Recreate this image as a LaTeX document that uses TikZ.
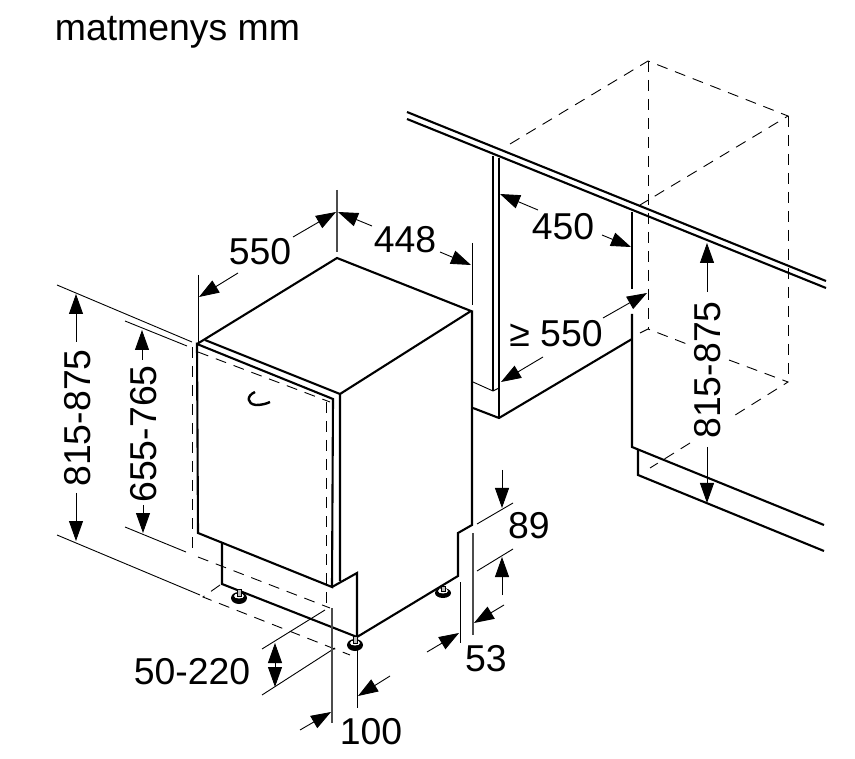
\documentclass[tikz,border=0pt]{standalone}
\usepackage{fontspec}
\setmainfont{Liberation Sans}
\usetikzlibrary{arrows.meta}
\tikzset{
heavy/.style={line width=2.1pt},
light/.style={line width=0.9pt},
medium/.style={line width=1.4pt,black!70},
hidden/.style={line width=0.9pt,dash pattern=on 11pt off 8pt},
dimarrow/.style={line width=0.9pt,-{Triangle[length=20pt,width=14pt]}},
dimtext/.style={font=\fontsize{37.4}{37.4}\selectfont,inner sep=0pt},
}
\begin{document}
\begin{tikzpicture}[x=1pt,y=-1pt]
\useasboundingbox (0,0) rectangle (855,759);
\node[dimtext] (title) at (177.5,32) {matmenys mm};
% hidden outline of the opening
\draw[hidden] (192,347) -- (192,553);
\draw[hidden] (198,352) -- (330,402);
\draw[hidden] (326,402) -- (326,608);
\draw[hidden] (198,557) -- (330,608);
\draw[hidden] (220,585) -- (203,597) -- (350,655);
% appliance
\draw[heavy] (197,344) -- (337,258) -- (471,311) -- (340,394);
\draw[heavy] (205,340) -- (340,394) -- (340,581);
\draw[heavy] (197,344) -- (333,399) -- (332,587) -- (198,533) -- cycle;
\draw[heavy] (332,587) -- (357,573) -- (357,637) -- (458,576) -- (458,533) -- (472,525) -- (472,311);
\draw[heavy] (222,543) -- (222,584) -- (357,637);
% door handle
\draw[line width=2.4pt] (255,392) .. controls (246,396) and (247,404) .. (256,405) .. controls (261,405) and (266,404) .. (270,402);
% feet
\fill (239,598) ellipse (8 and 6);
\fill[white] (239,596) ellipse (5 and 2.5);
\draw[line width=0.8pt,fill=black!25] (237,589) rectangle (241,596);
\fill (355,645) ellipse (8 and 6);
\fill[white] (355,643) ellipse (5 and 2.5);
\draw[line width=0.8pt,fill=black!25] (353,636) rectangle (357,643);
\fill (443,593) ellipse (8 and 5);
\fill[white] (443,591) ellipse (5 and 2.5);
\draw[line width=0.8pt,fill=black!25] (441,586) rectangle (445,591);
% extension lines
\draw[light] (57,285) -- (192,342);
\draw[light] (125,321) -- (187,346);
\draw[light] (57,535) -- (200,595);
\draw[light] (125,527) -- (186,552);
\draw[light] (198,275) -- (198,343);
\draw[medium] (337,190) -- (337,252);
\draw[light] (472,243) -- (472,305);
\draw[light] (262,649) -- (325,610);
\draw[light] (262,695) -- (335,648);
\draw[medium] (332,608) -- (332,723);
\draw[light] (357,650) -- (357,708);
\draw[light] (460,582) -- (460,643);
\draw[medium] (473,533) -- (473,635);
\draw[light] (477,524) -- (513,503);
\draw[light] (477,571) -- (513,549);
% cabinet
\draw[heavy] (407,112) -- (826,281);
\draw[heavy] (407,119) -- (826,288);
\draw[heavy] (493,156) -- (493,391);
\draw[heavy] (499,158) -- (499,418);
\draw[light] (473,382) -- (493,391) -- (499,388);
\draw[heavy] (473,408) -- (499,418) -- (632,339);
\draw[heavy] (632,212) -- (632,289);
\draw[heavy] (632,314) -- (632,447) -- (824,525);
\draw[heavy] (638,449) -- (638,475) -- (824,551);
% hidden neighbour unit
\draw[hidden] (510,144) -- (648,61) -- (788,116) -- (640,205);
\draw[hidden] (648,61) -- (648,329);
\draw[hidden] (788,116) -- (788,382);
\draw[hidden] (640,333) -- (648,329) -- (692,346);
\draw[hidden] (729,360) -- (788,382) -- (732,417);
\draw[hidden] (690,443) -- (650,468);
% dimensions
\draw[dimarrow] (238,273) -- (199,297);
\draw[dimarrow] (293,237) -- (336,212);
\node[dimtext] (widthlabel) at (260,252) {550};
\draw[dimarrow] (372,226) -- (338,212);
\draw[dimarrow] (440,252) -- (471,265);
\node[dimtext] (depthlabel) at (405,240) {448};
\draw[dimarrow] (76,342) -- (76,294);
\draw[dimarrow] (76,493) -- (76,541);
\node[dimtext,rotate=90] (heightlabel) at (78,418) {815-875};
\draw[dimarrow] (142,360) -- (142,330);
\draw[dimarrow] (143,505) -- (143,533);
\node[dimtext,rotate=90] (bodylabel) at (144,434) {655-765};
\draw[dimarrow] (275,667) -- (275,643);
\draw[dimarrow] (275,663) -- (275,687);
\node[dimtext] (footlabel) at (192,672) {50-220};
\draw[dimarrow] (300,730) -- (331,712);
\draw[dimarrow] (390,676) -- (358,696);
\node[dimtext] (insetlabel) at (371,732) {100};
\draw[dimarrow] (427,652) -- (459,633);
\draw[dimarrow] (504,605) -- (474,623);
\node[dimtext] (stepwidth) at (486,659) {53};
\draw[dimarrow] (502,470) -- (502,508);
\draw[dimarrow] (502,595) -- (502,557);
\node[dimtext] (stepheight) at (529,526) {89};
\draw[dimarrow] (538,210) -- (500,194);
\draw[dimarrow] (602,235) -- (631,247);
\node[dimtext] (openingdepth) at (563,227) {450};
\draw[dimarrow] (543,357) -- (501,382);
\draw[dimarrow] (603,318) -- (647,293);
\node[dimtext] (openingwidth) at (556,334) {≥ 550};
\draw[dimarrow] (707,292) -- (707,243);
\draw[dimarrow] (707,447) -- (707,503);
\node[dimtext,rotate=90] (openingheight) at (708,370) {815-875};
\end{tikzpicture}
\end{document}
